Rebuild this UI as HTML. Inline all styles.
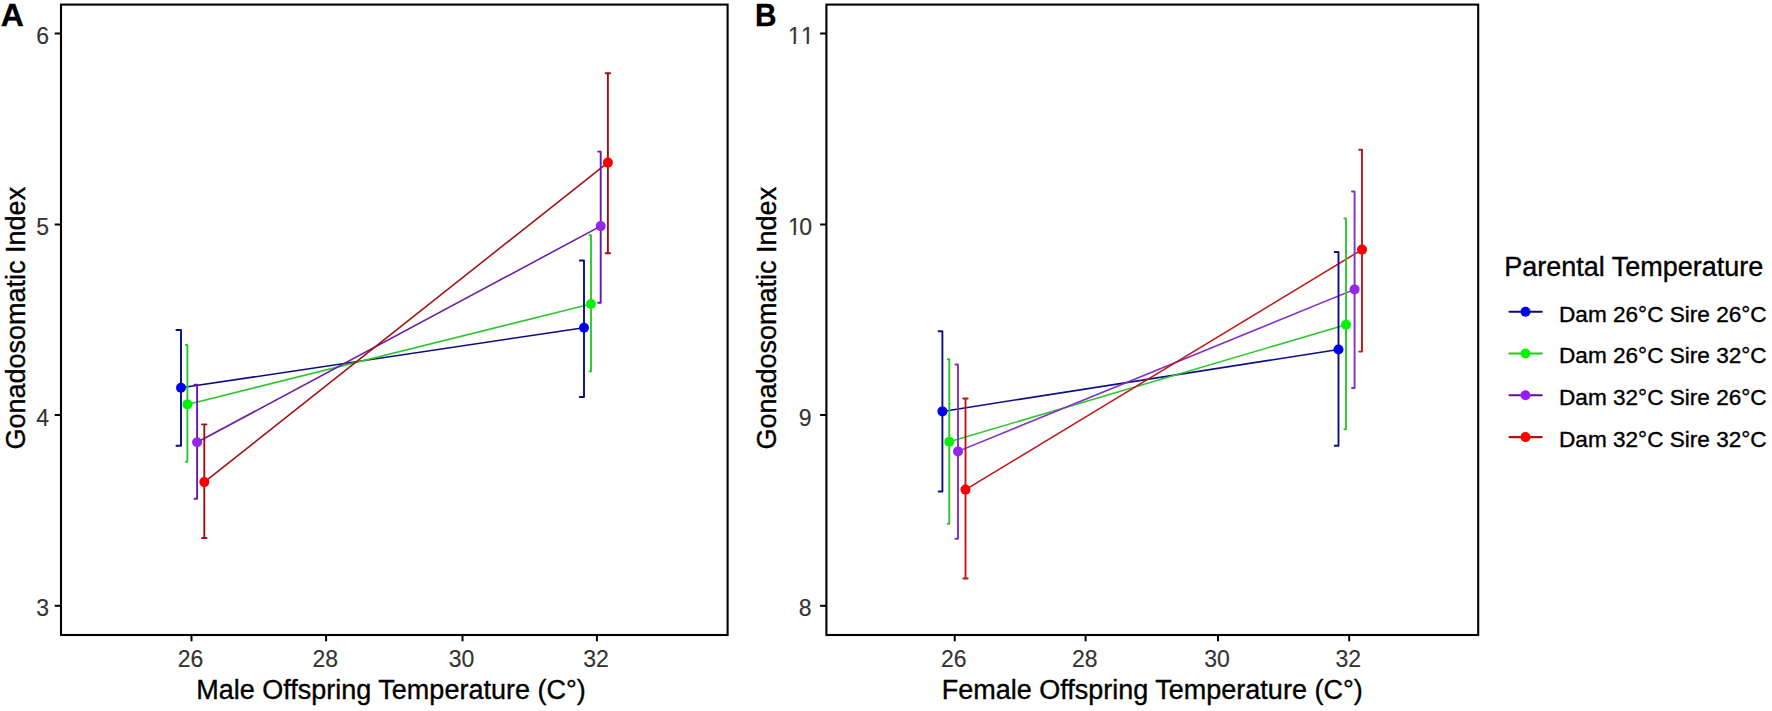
<!DOCTYPE html>
<html><head><meta charset="utf-8"><title>Gonadosomatic Index</title>
<style>
html,body{margin:0;padding:0;background:#fff;}
#wrap{width:1772px;height:711px;}
svg{display:block;font-family:"Liberation Sans", Arial, sans-serif;}
text{stroke-width:0.35px;}
</style></head><body>
<div id="wrap">
<svg width="1772" height="711" viewBox="0 0 1772 711">
<rect width="1772" height="711" fill="#fff"/>
<text x="0.7" y="25.7" font-size="32" font-weight="bold" fill="#000" stroke="#000">A</text>
<text transform="translate(755.1,25.7) scale(0.93,1)" font-size="32" font-weight="bold" fill="#000" stroke="#000">B</text>
<rect x="61.0" y="4.6" width="666.6" height="630.4" fill="none" stroke="#000" stroke-width="2.1"/>
<rect x="826.4" y="4.6" width="651.8000000000001" height="630.4" fill="none" stroke="#000" stroke-width="2.1"/>
<line x1="54.7" y1="33.5" x2="61.0" y2="33.5" stroke="#000" stroke-width="2"/>
<text x="49.0" y="44.1" text-anchor="end" font-size="23" fill="#333" stroke="#333" style="stroke-width:0.15px">6</text>
<line x1="54.7" y1="224.5" x2="61.0" y2="224.5" stroke="#000" stroke-width="2"/>
<text x="49.0" y="235.1" text-anchor="end" font-size="23" fill="#333" stroke="#333" style="stroke-width:0.15px">5</text>
<line x1="54.7" y1="415.0" x2="61.0" y2="415.0" stroke="#000" stroke-width="2"/>
<text x="49.0" y="425.6" text-anchor="end" font-size="23" fill="#333" stroke="#333" style="stroke-width:0.15px">4</text>
<line x1="54.7" y1="605.8" x2="61.0" y2="605.8" stroke="#000" stroke-width="2"/>
<text x="49.0" y="616.4" text-anchor="end" font-size="23" fill="#333" stroke="#333" style="stroke-width:0.15px">3</text>
<line x1="820.1" y1="33.5" x2="826.4" y2="33.5" stroke="#000" stroke-width="2"/>
<text y="44.1" font-size="23" fill="#333" stroke="#333" style="stroke-width:0.15px"><tspan x="787.90">1</tspan><tspan x="801.00">1</tspan></text>
<rect x="788.30" y="41.70" width="5.30" height="3.40" fill="#fff"/>
<rect x="795.75" y="41.70" width="5.20" height="3.40" fill="#fff"/>
<rect x="801.40" y="41.70" width="5.30" height="3.40" fill="#fff"/>
<rect x="808.85" y="41.70" width="5.20" height="3.40" fill="#fff"/>
<line x1="820.1" y1="224.5" x2="826.4" y2="224.5" stroke="#000" stroke-width="2"/>
<text y="235.1" font-size="23" fill="#333" stroke="#333" style="stroke-width:0.15px"><tspan x="787.90">1</tspan><tspan x="799.30">0</tspan></text>
<rect x="788.30" y="232.70" width="5.30" height="3.40" fill="#fff"/>
<rect x="795.75" y="232.70" width="5.20" height="3.40" fill="#fff"/>
<line x1="820.1" y1="415.0" x2="826.4" y2="415.0" stroke="#000" stroke-width="2"/>
<text x="811.6" y="425.6" text-anchor="end" font-size="23" fill="#333" stroke="#333" style="stroke-width:0.15px">9</text>
<line x1="820.1" y1="605.8" x2="826.4" y2="605.8" stroke="#000" stroke-width="2"/>
<text x="811.6" y="616.4" text-anchor="end" font-size="23" fill="#333" stroke="#333" style="stroke-width:0.15px">8</text>
<line x1="191.5" y1="635.0" x2="191.5" y2="641.3" stroke="#000" stroke-width="2"/>
<text x="190.6" y="667.2" text-anchor="middle" font-size="23" fill="#333" stroke="#333" style="stroke-width:0.15px">26</text>
<line x1="326.1" y1="635.0" x2="326.1" y2="641.3" stroke="#000" stroke-width="2"/>
<text x="325.2" y="667.2" text-anchor="middle" font-size="23" fill="#333" stroke="#333" style="stroke-width:0.15px">28</text>
<line x1="462.5" y1="635.0" x2="462.5" y2="641.3" stroke="#000" stroke-width="2"/>
<text x="461.6" y="667.2" text-anchor="middle" font-size="23" fill="#333" stroke="#333" style="stroke-width:0.15px">30</text>
<line x1="596.9" y1="635.0" x2="596.9" y2="641.3" stroke="#000" stroke-width="2"/>
<text x="596.0" y="667.2" text-anchor="middle" font-size="23" fill="#333" stroke="#333" style="stroke-width:0.15px">32</text>
<line x1="954.7" y1="635.0" x2="954.7" y2="641.3" stroke="#000" stroke-width="2"/>
<text x="953.8" y="667.2" text-anchor="middle" font-size="23" fill="#333" stroke="#333" style="stroke-width:0.15px">26</text>
<line x1="1085.6" y1="635.0" x2="1085.6" y2="641.3" stroke="#000" stroke-width="2"/>
<text x="1084.7" y="667.2" text-anchor="middle" font-size="23" fill="#333" stroke="#333" style="stroke-width:0.15px">28</text>
<line x1="1218.0" y1="635.0" x2="1218.0" y2="641.3" stroke="#000" stroke-width="2"/>
<text x="1217.1" y="667.2" text-anchor="middle" font-size="23" fill="#333" stroke="#333" style="stroke-width:0.15px">30</text>
<line x1="1349.2" y1="635.0" x2="1349.2" y2="641.3" stroke="#000" stroke-width="2"/>
<text x="1348.3" y="667.2" text-anchor="middle" font-size="23" fill="#333" stroke="#333" style="stroke-width:0.15px">32</text>
<text x="391" y="699" text-anchor="middle" font-size="27" fill="#000" stroke="#000">Male Offspring Temperature (C°)</text>
<text x="1152.2" y="699" text-anchor="middle" font-size="27" fill="#000" stroke="#000">Female Offspring Temperature (C°)</text>
<text transform="translate(25.3,318.2) rotate(-90)" text-anchor="middle" font-size="27" fill="#000" stroke="#000">Gonadosomatic Index</text>
<text transform="translate(776.3,318.2) rotate(-90)" text-anchor="middle" font-size="27" fill="#000" stroke="#000">Gonadosomatic Index</text>
<line x1="181.0" y1="387.8" x2="584.0" y2="327.7" stroke="#0c0c80" stroke-width="1.55"/>
<line x1="187.4" y1="404.4" x2="591.0" y2="304.0" stroke="#2ec82e" stroke-width="1.55"/>
<line x1="197.1" y1="442.3" x2="600.7" y2="226.1" stroke="#6a1aa6" stroke-width="1.55"/>
<line x1="204.3" y1="482.1" x2="607.9" y2="162.6" stroke="#a01010" stroke-width="1.55"/>
<path d="M176.4,330.0H181.0M181.0,330.0V445.8M176.4,445.8H181.0" stroke="#0c0c80" stroke-width="1.9" fill="none" stroke-linecap="round"/>
<path d="M185.8,345.0H187.4M187.4,345.0V461.7M185.8,461.7H187.4" stroke="#2ec82e" stroke-width="1.9" fill="none" stroke-linecap="round"/>
<path d="M194.5,384.6H197.1M197.1,384.6V498.7M194.5,498.7H197.1" stroke="#6a1aa6" stroke-width="1.9" fill="none" stroke-linecap="round"/>
<path d="M202.10000000000002,424.4H206.5M204.3,424.4V538.0M202.10000000000002,538.0H206.5" stroke="#a01010" stroke-width="1.9" fill="none" stroke-linecap="round"/>
<path d="M579.8,260.5H584.0M584.0,260.5V397.0M579.8,397.0H584.0" stroke="#0c0c80" stroke-width="1.9" fill="none" stroke-linecap="round"/>
<path d="M589.4,235.2H591.0M591.0,235.2V371.4M589.4,371.4H591.0" stroke="#2ec82e" stroke-width="1.9" fill="none" stroke-linecap="round"/>
<path d="M598.1,151.6H600.7M600.7,151.6V302.7M598.1,302.7H600.7" stroke="#6a1aa6" stroke-width="1.9" fill="none" stroke-linecap="round"/>
<path d="M605.6999999999999,73.3H610.1M607.9,73.3V253.3M605.6999999999999,253.3H610.1" stroke="#a01010" stroke-width="1.9" fill="none" stroke-linecap="round"/>
<circle cx="181.0" cy="387.8" r="5.0" fill="#0000f0"/>
<circle cx="187.4" cy="404.4" r="5.0" fill="#08f008"/>
<circle cx="197.1" cy="442.3" r="5.0" fill="#9426ee"/>
<circle cx="204.3" cy="482.1" r="5.0" fill="#f80000"/>
<circle cx="584.0" cy="327.7" r="5.0" fill="#0000f0"/>
<circle cx="591.0" cy="304.0" r="5.0" fill="#08f008"/>
<circle cx="600.7" cy="226.1" r="5.0" fill="#9426ee"/>
<circle cx="607.9" cy="162.6" r="5.0" fill="#f80000"/>
<line x1="942.4" y1="411.4" x2="1338.5" y2="349.5" stroke="#0e0e86" stroke-width="1.55"/>
<line x1="949.3" y1="441.8" x2="1346.0" y2="324.7" stroke="#2ec82e" stroke-width="1.55"/>
<line x1="958.0" y1="451.4" x2="1354.6" y2="289.4" stroke="#8030c8" stroke-width="1.55"/>
<line x1="965.5" y1="489.6" x2="1362.0" y2="249.6" stroke="#c01616" stroke-width="1.55"/>
<path d="M938.6,331.3H942.4M942.4,331.3V491.5M938.6,491.5H942.4" stroke="#0e0e86" stroke-width="1.9" fill="none" stroke-linecap="round"/>
<path d="M947.6999999999999,359.2H949.3M949.3,359.2V523.7M947.6999999999999,523.7H949.3" stroke="#2ec82e" stroke-width="1.9" fill="none" stroke-linecap="round"/>
<path d="M955.4,364.5H958.0M958.0,364.5V538.7M955.4,538.7H958.0" stroke="#8030c8" stroke-width="1.9" fill="none" stroke-linecap="round"/>
<path d="M963.3,398.5H967.7M965.5,398.5V578.5M963.3,578.5H967.7" stroke="#c01616" stroke-width="1.9" fill="none" stroke-linecap="round"/>
<path d="M1334.7,252.0H1338.5M1338.5,252.0V445.8M1334.7,445.8H1338.5" stroke="#0e0e86" stroke-width="1.9" fill="none" stroke-linecap="round"/>
<path d="M1344.4,218.5H1346.0M1346.0,218.5V429.3M1344.4,429.3H1346.0" stroke="#2ec82e" stroke-width="1.9" fill="none" stroke-linecap="round"/>
<path d="M1352.0,191.5H1354.6M1354.6,191.5V388.0M1352.0,388.0H1354.6" stroke="#8030c8" stroke-width="1.9" fill="none" stroke-linecap="round"/>
<path d="M1359.2,149.7H1362.0M1362.0,149.7V351.6M1359.2,351.6H1362.0" stroke="#c01616" stroke-width="1.9" fill="none" stroke-linecap="round"/>
<circle cx="942.4" cy="411.4" r="5.0" fill="#0000f0"/>
<circle cx="949.3" cy="441.8" r="5.0" fill="#08f008"/>
<circle cx="958.0" cy="451.4" r="5.0" fill="#9426ee"/>
<circle cx="965.5" cy="489.6" r="5.0" fill="#f80000"/>
<circle cx="1338.5" cy="349.5" r="5.0" fill="#0000f0"/>
<circle cx="1346.0" cy="324.7" r="5.0" fill="#08f008"/>
<circle cx="1354.6" cy="289.4" r="5.0" fill="#9426ee"/>
<circle cx="1362.0" cy="249.6" r="5.0" fill="#f80000"/>
<text x="1504.2" y="276.2" font-size="27" fill="#000" stroke="#000">Parental Temperature</text>
<line x1="1509.5" y1="311.7" x2="1541.8" y2="311.7" stroke="#0c0c66" stroke-width="2.1" stroke-linecap="round"/>
<circle cx="1525.5" cy="311.7" r="5" fill="#0000f0"/>
<text x="1559" y="321.5" font-size="22.6" fill="#000" stroke="#000">Dam 26°C Sire 26°C</text>
<line x1="1509.5" y1="353.5" x2="1541.8" y2="353.5" stroke="#22c822" stroke-width="2.1" stroke-linecap="round"/>
<circle cx="1525.5" cy="353.5" r="5" fill="#00f800"/>
<text x="1559" y="363.3" font-size="22.6" fill="#000" stroke="#000">Dam 26°C Sire 32°C</text>
<line x1="1509.5" y1="395.3" x2="1541.8" y2="395.3" stroke="#5c1494" stroke-width="2.1" stroke-linecap="round"/>
<circle cx="1525.5" cy="395.3" r="5" fill="#9a1af0"/>
<text x="1559" y="405.1" font-size="22.6" fill="#000" stroke="#000">Dam 32°C Sire 26°C</text>
<line x1="1509.5" y1="437.1" x2="1541.8" y2="437.1" stroke="#b81010" stroke-width="2.1" stroke-linecap="round"/>
<circle cx="1525.5" cy="437.1" r="5" fill="#ff0000"/>
<text x="1559" y="446.9" font-size="22.6" fill="#000" stroke="#000">Dam 32°C Sire 32°C</text>
</svg>
</div>
</body></html>
